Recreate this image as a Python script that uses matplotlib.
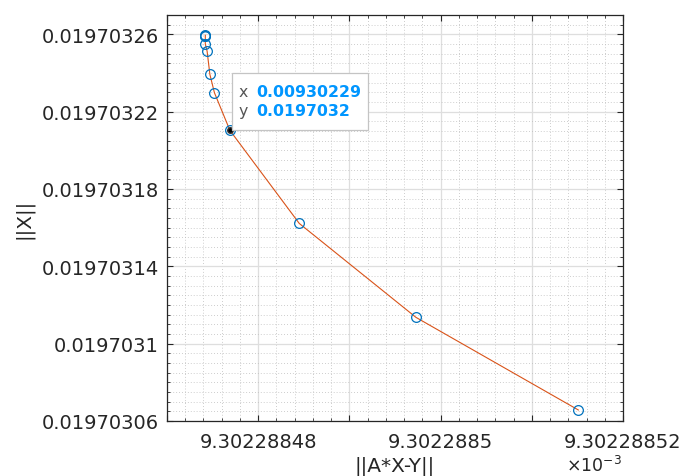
import matplotlib
matplotlib.use("Agg")
import matplotlib.pyplot as plt
from matplotlib.ticker import FixedLocator, FixedFormatter, MultipleLocator
from matplotlib.offsetbox import TextArea, HPacker, VPacker, AnnotationBbox, DrawingArea

# L-curve points: residual norm ||A*X-Y|| and solution norm ||X||
resid_norm = [9.3022884742e-3, 9.3022884742e-3, 9.3022884742e-3, 9.3022884742e-3,
              9.3022884744e-3, 9.3022884747e-3, 9.3022884752e-3, 9.3022884769e-3,
              9.3022884845e-3, 9.3022884973e-3, 9.3022885151e-3]
sol_norm = [0.0197032595, 0.0197032593, 0.0197032590, 0.0197032550,
            0.0197032512, 0.0197032393, 0.0197032298, 0.0197032103,
            0.0197031622, 0.0197031136, 0.0197030657]

tip_index = 7
tip_x_text = "0.00930229"
tip_y_text = "0.0197032"

x_major = [9.30228847, 9.30228848, 9.30228849, 9.30228850, 9.30228851, 9.30228852]
x_labels = ["", "9.30228848", "", "9.3022885", "", "9.30228852"]
y_major = [0.01970306, 0.01970310, 0.01970314, 0.01970318, 0.01970322, 0.01970326]
y_labels = ["0.01970306", "0.0197031", "0.01970314", "0.01970318", "0.01970322", "0.01970326"]

line_col = "#D95319"
mark_col = "#0072BD"
dark = "#262626"

fig = plt.figure(figsize=(6.81, 4.77), dpi=100)
ax = fig.add_axes([167 / 681, 55 / 477, 456 / 681, 406 / 477])

xs = [v * 1e3 for v in resid_norm]
ax.plot(xs, sol_norm, color=line_col, lw=0.8, zorder=3)
ax.plot(xs, sol_norm, ls="none", marker="o", ms=7, mfc="none", mec=mark_col, mew=0.9, zorder=4)

ax.set_xlim(9.30228847, 9.30228852)
ax.set_ylim(0.01970306, 0.01970327)

ax.xaxis.set_major_locator(FixedLocator(x_major))
ax.xaxis.set_major_formatter(FixedFormatter(x_labels))
ax.xaxis.set_minor_locator(MultipleLocator(0.2e-8))
ax.yaxis.set_major_locator(FixedLocator(y_major))
ax.yaxis.set_major_formatter(FixedFormatter(y_labels))
ax.yaxis.set_minor_locator(MultipleLocator(0.5e-8))

ax.grid(which="major", color="#dedede", lw=0.9, zorder=0)
ax.grid(which="minor", color="#bdbdbd", lw=0.6, ls=(0, (1, 2.5)), zorder=0)
ax.set_axisbelow(True)

ax.tick_params(which="both", direction="in", top=True, right=True, colors=dark,
               labelcolor=dark, labelsize=14)
ax.tick_params(which="major", length=4, width=0.8)
ax.tick_params(which="minor", length=2.2, width=0.6)
ax.tick_params(axis="y", pad=6)
ax.tick_params(axis="x", pad=8)
for s in ax.spines.values():
    s.set_color(dark)
    s.set_linewidth(0.9)

ax.set_xlabel("||A*X-Y||", fontsize=14.5, color=dark, labelpad=3)
ax.set_ylabel("||X||", fontsize=14.5, color=dark, labelpad=6)

fig.text(622 / 681, 5 / 477, r"$\times10^{-3}$", ha="right", va="baseline",
         fontsize=12.5, color=dark)

# data tip
px, py = xs[tip_index], sol_norm[tip_index]
ax.plot([px], [py], ls="none", marker="o", ms=4, mfc="black", mec="#333333", zorder=5)
lab = dict(color="#555555", fontsize=11.3)
val = dict(color="#0096FF", fontsize=11.3, fontweight="bold")
row1 = HPacker(children=[TextArea("x", textprops=lab), TextArea(tip_x_text, textprops=val)],
               sep=6, align="baseline")
row2 = HPacker(children=[TextArea("y", textprops=lab), TextArea(tip_y_text, textprops=val)],
               sep=6, align="baseline")
box = VPacker(children=[DrawingArea(0, 0), row1, row2, DrawingArea(0, 0)],
              sep=3, align="left", pad=2)
ab = AnnotationBbox(box, (px, py), xybox=(4.4, 3.6), xycoords="data",
                    boxcoords="offset points", box_alignment=(0, 0), pad=0.63,
                    bboxprops=dict(boxstyle="square", fc="white", ec="#c4c4c4", lw=0.9),
                    zorder=6)
ax.add_artist(ab)

fig.savefig("out.png", dpi=100)
